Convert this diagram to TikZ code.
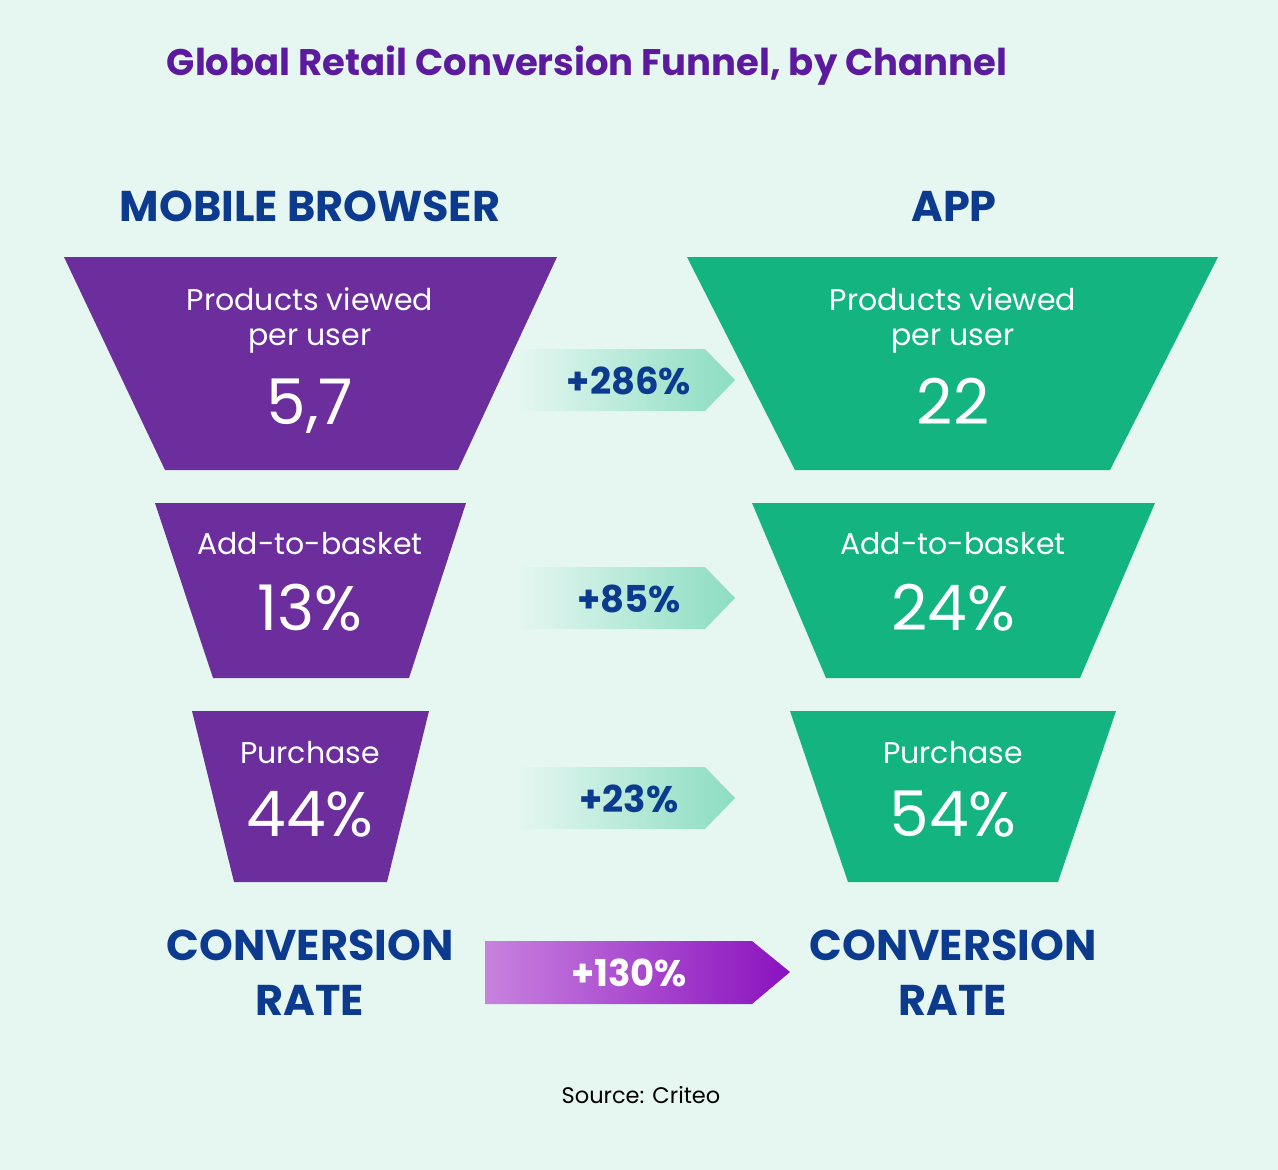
\documentclass[tikz,border=0pt]{standalone}
\usepackage{fontspec}
\setmainfont{Poppins}
\definecolor{bg}{HTML}{E6F7F2}
\definecolor{purp}{HTML}{6B2E9C}
\definecolor{grn}{HTML}{13B47F}
\definecolor{navy}{HTML}{0B3A8E}
\definecolor{ttl}{HTML}{5C1A9E}
\definecolor{tealA}{HTML}{8CDDC2}
\definecolor{pA}{HTML}{C882DF}
\definecolor{pB}{HTML}{8A12BE}
\tikzset{
  lbl/.style={text=white, anchor=base, inner sep=0pt, font=\fontsize{30}{36}\selectfont},
  big/.style={text=white, anchor=base, inner sep=0pt, font=\fontsize{63}{70}\selectfont},
  pct/.style={text=navy, anchor=base, inner sep=0pt, font=\fontsize{37}{44}\selectfont\bfseries},
  head/.style={text=navy, anchor=base, inner sep=0pt, font=\fontsize{43}{50}\selectfont\bfseries},
}
\begin{document}
\begin{tikzpicture}[x=1pt,y=-1pt]
\useasboundingbox (0,0) rectangle (1278,1170);
\fill[bg] (0,0) rectangle (1278,1170);

% title
\node[anchor=base, inner sep=0pt, text=ttl, font=\fontsize{37}{44}\selectfont\bfseries] (title) at (587,75) {Global Retail Conversion Funnel, by Channel};

% headings
\node[head] (mb) at (310,221) {MOBILE BROWSER};
\node[head] (app) at (954,221) {APP};

% funnels left
\fill[purp] (64,257) -- (557,257) -- (458,470) -- (165,470) -- cycle;
\fill[purp] (155,503) -- (466,503) -- (409,678) -- (213,678) -- cycle;
\fill[purp] (192,711) -- (429,711) -- (387,882) -- (234,882) -- cycle;
% funnels right
\fill[grn] (687,257) -- (1218,257) -- (1110,470) -- (795,470) -- cycle;
\fill[grn] (752,503) -- (1155,503) -- (1080,678) -- (826,678) -- cycle;
\fill[grn] (790,711) -- (1116,711) -- (1058,882) -- (848,882) -- cycle;

% left texts
\node[lbl] (l1a) at (310,310) {Products viewed};
\node[lbl] (l1b) at (310,345) {per user};
\node[big] (l1c) at (310,424) {5,7};
\node[lbl] (l2a) at (310,554) {Add-to-basket};
\node[big] (l2c) at (310,630) {13\%};
\node[lbl] (l3a) at (310,763) {Purchase};
\node[big] (l3c) at (310,836) {44\%};
% right texts
\node[lbl] (r1a) at (953,310) {Products viewed};
\node[lbl] (r1b) at (953,345) {per user};
\node[big] (r1c) at (953,424) {22};
\node[lbl] (r2a) at (953,554) {Add-to-basket};
\node[big] (r2c) at (953,630) {24\%};
\node[lbl] (r3a) at (953,763) {Purchase};
\node[big] (r3c) at (953,836) {54\%};

% teal arrows
\shade[left color=bg, right color=tealA] (515,349) -- (705,349) -- (735,380) -- (705,411) -- (515,411) -- cycle;
\shade[left color=bg, right color=tealA] (515,567) -- (705,567) -- (735,598) -- (705,629) -- (515,629) -- cycle;
\shade[left color=bg, right color=tealA] (515,767) -- (705,767) -- (735,798) -- (705,829) -- (515,829) -- cycle;
\node[pct] (a1) at (629,394) {+286\%};
\node[pct] (a2) at (629,612) {+85\%};
\node[pct] (a3) at (629,812) {+23\%};

% conversion rate
\node[head] (cl1) at (310,960) {CONVERSION};
\node[head] (cl2) at (310,1015) {RATE};
\node[head] (cr1) at (953,960) {CONVERSION};
\node[head] (cr2) at (953,1015) {RATE};
\shade[left color=pA, right color=pB] (485,941) -- (752,941) -- (790,972) -- (752,1004) -- (485,1004) -- cycle;
\node[pct, text=white] (a4) at (629,986) {+130\%};

% source
\node[anchor=base, inner sep=0pt, text=black, font=\fontsize{22.5}{27}\selectfont] (src) at (641,1103) {Source: Criteo};
\end{tikzpicture}
\end{document}
